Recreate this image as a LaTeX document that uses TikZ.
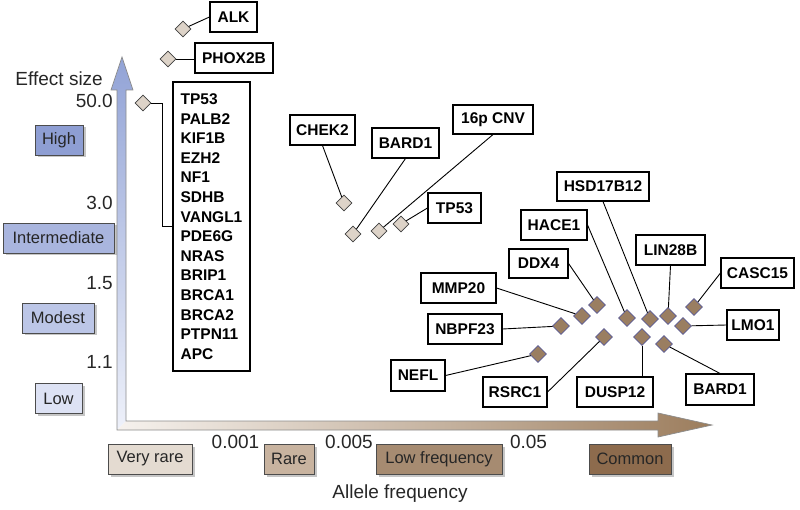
\documentclass[tikz,border=0pt]{standalone}
\usepackage{fontspec}
\setmainfont{Liberation Sans}
\usetikzlibrary{shapes.geometric,shadows}
\definecolor{vtop}{HTML}{92A3D6}
\definecolor{vbot}{HTML}{EEF1FA}
\definecolor{hleft}{HTML}{F6F2EE}
\definecolor{hright}{HTML}{9C7D5D}
\definecolor{cHigh}{HTML}{8E9ED3}
\definecolor{cInter}{HTML}{A9B5DE}
\definecolor{cModest}{HTML}{BCC6E7}
\definecolor{cLow}{HTML}{DDE2F4}
\definecolor{cVrare}{HTML}{E4DBD1}
\definecolor{cRare}{HTML}{C8B39F}
\definecolor{cLowf}{HTML}{A68B71}
\definecolor{cCommon}{HTML}{8D6B4D}
\definecolor{beige}{HTML}{DDD3C8}
\definecolor{brownd}{HTML}{9A7E61}
\tikzset{
  gene/.style={draw=black, line width=1.1pt, fill=white, inner sep=0pt,
    minimum height=30pt, font=\bfseries\fontsize{15.5}{18}\selectfont},
  cat/.style={draw=black!70, line width=0.6pt, inner sep=0pt, minimum height=30pt,
    font=\fontsize{16.5}{19}\selectfont, text=black!85,
    drop shadow={shadow xshift=2.5pt, shadow yshift=-2.5pt, opacity=0.45}},
  tick/.style={font=\fontsize{19}{22}\selectfont, text=black!85, inner sep=0pt},
  bdiam/.style={diamond, draw=black!75, line width=0.7pt, fill=beige, inner sep=0pt,
    minimum width=16pt, minimum height=16pt},
  rdiam/.style={diamond, draw=black!25!blue!30!gray, line width=0.7pt, fill=brownd, inner sep=0pt,
    minimum width=17pt, minimum height=17pt},
  conn/.style={draw=black, line width=0.9pt},
  axisline/.style={draw=black!45, line width=0.7pt, line join=miter},
}
\begin{document}
\begin{tikzpicture}[x=1pt,y=-1pt]
\useasboundingbox (0,0) rectangle (800,510);
% axes
\shade[top color=vtop, bottom color=vbot] (117,430) -- (117,90) -- (111,90) -- (122,57) -- (133,90) -- (126,90) -- (126,421) -- cycle;
\shade[left color=hleft, right color=hright] (117,430) -- (126,421) -- (658,421) -- (658,413) -- (712,425) -- (658,437) -- (658,430) -- cycle;
\draw[axisline] (117,430) -- (117,90) -- (111,90) -- (122,57) -- (133,90) -- (126,90) -- (126,421) -- (658,421) -- (658,413) -- (712,425) -- (658,437) -- (658,430) -- cycle;

% axis texts
\node[tick, anchor=east] (effect) at (103,79) {Effect size};
\node[tick, anchor=east] (t50) at (113,101) {50.0};
\node[tick, anchor=east] (t30) at (113,203) {3.0};
\node[tick, anchor=east] (t15) at (113,283) {1.5};
\node[tick, anchor=east] (t11) at (113,362) {1.1};
\node[tick] (allele) at (400,494) {Allele frequency};
\node[tick] (x001) at (235.5,442) {0.001};
\node[tick] (x005) at (349,442) {0.005};
\node[tick] (x05) at (528.5,442) {0.05};

% effect categories
\node[cat, fill=cHigh, minimum width=48pt] (high) at (59,140) {High};
\node[cat, fill=cInter, minimum width=111pt] (inter) at (58.5,238) {Intermediate};
\node[cat, fill=cModest, minimum width=72pt] (modest) at (58,318) {Modest};
\node[cat, fill=cLow, minimum width=47pt] (low) at (58.5,398.5) {Low};

% frequency categories
\node[cat, fill=cVrare, minimum width=84pt] (vrare) at (150,459) {Very rare};
\node[cat, fill=cRare, minimum width=50pt] (rare) at (289,459) {Rare};
\node[cat, fill=cLowf, minimum width=126pt] (lowf) at (439,459) {Low frequency};
\node[cat, fill=cCommon, minimum width=82pt] (common) at (630,459) {Common};

% high-effect genes
\node[gene, minimum width=47pt] (alk) at (233.5,17) {ALK};
\node[gene, minimum width=78pt] (phox) at (234,58) {PHOX2B};
\node[gene, minimum width=77pt, minimum height=289pt, align=left,
  font=\bfseries\fontsize{15.5}{19.6}\selectfont] (big) at (211.5,226.5)
  {TP53\\PALB2\\KIF1B\\EZH2\\NF1\\SDHB\\VANGL1\\PDE6G\\NRAS\\BRIP1\\BRCA1\\BRCA2\\PTPN11\\APC};
\node[bdiam] (dalk) at (183,29) {};
\node[bdiam] (dphox) at (168,59) {};
\node[bdiam] (dbig) at (143,103) {};
\draw[conn] (dalk) -- (alk.west);
\draw[conn] (dphox) -- (dphox -| phox.west);
\draw[conn] (dbig.east) -- ++(11,0) |- (big.west);

% intermediate genes
\node[gene, minimum width=65pt] (chek) at (322.5,130) {CHEK2};
\node[gene, minimum width=67pt] (barda) at (405.5,143) {BARD1};
\node[gene, minimum width=80pt, minimum height=29pt] (cnv) at (493,119.5) {16p CNV};
\node[gene, minimum width=53pt] (tpb) at (454.5,208) {TP53};
\node[bdiam] (dchek) at (344,203) {};
\node[bdiam] (dbarda) at (353,234) {};
\node[bdiam] (dcnv) at (379,231) {};
\node[bdiam] (dtpb) at (401,224) {};
\draw[conn] (chek.south) -- (dchek);
\draw[conn] (barda.south) -- (dbarda);
\draw[conn] (cnv.south) -- (dcnv);
\draw[conn] (tpb.west) -- (dtpb);

% common variants
\node[gene, minimum width=92pt, minimum height=29pt] (hsd) at (603,186.5) {HSD17B12};
\node[gene, minimum width=66pt] (hace) at (554,225) {HACE1};
\node[gene, minimum width=59pt, minimum height=29pt] (ddx) at (538.5,263.5) {DDX4};
\node[gene, minimum width=75pt] (mmp) at (458.5,288) {MMP20};
\node[gene, minimum width=74pt] (nbpf) at (465,329) {NBPF23};
\node[gene, minimum width=54pt, minimum height=31pt] (nefl) at (418,375.5) {NEFL};
\node[gene, minimum width=64pt] (rsrc) at (515,392) {RSRC1};
\node[gene, minimum width=76pt] (dusp) at (615,392) {DUSP12};
\node[gene, minimum width=68pt, minimum height=31pt] (bardb) at (720,389.5) {BARD1};
\node[gene, minimum width=52pt] (lmo) at (753,325) {LMO1};
\node[gene, minimum width=73pt] (casc) at (757.5,273) {CASC15};
\node[gene, minimum width=69pt] (lin) at (670.5,250) {LIN28B};

\node[rdiam] (dddx) at (597,305) {};
\node[rdiam] (dmmp) at (582,316) {};
\node[rdiam] (dnbpf) at (561,326) {};
\node[rdiam] (dnefl) at (538,354) {};
\node[rdiam] (drsrc) at (604,337) {};
\node[rdiam] (dhace) at (627,318) {};
\node[rdiam] (dhsd) at (650,319) {};
\node[rdiam] (dlin) at (668,316) {};
\node[rdiam] (dlmo) at (683,326) {};
\node[rdiam] (dcasc) at (694,307) {};
\node[rdiam] (ddusp) at (642,337) {};
\node[rdiam] (dbardb) at (664,344) {};

\draw[conn] (hsd.south) -- (dhsd);
\draw[conn] (hace.east) -- (dhace);
\draw[conn] (ddx.east) -- (dddx);
\draw[conn] (mmp.east) -- (dmmp);
\draw[conn] (nbpf.east) -- (dnbpf);
\draw[conn] (nefl.east) -- (dnefl);
\draw[conn] (rsrc.east) -- (drsrc);
\draw[conn] (ddusp) -- (ddusp |- dusp.north);
\draw[conn] (bardb.north) -- (dbardb);
\draw[conn] (lmo.west) -- (dlmo);
\draw[conn] (casc.west) -- (dcasc);
\draw[conn] (lin.south) -- (dlin);
\end{tikzpicture}
\end{document}
